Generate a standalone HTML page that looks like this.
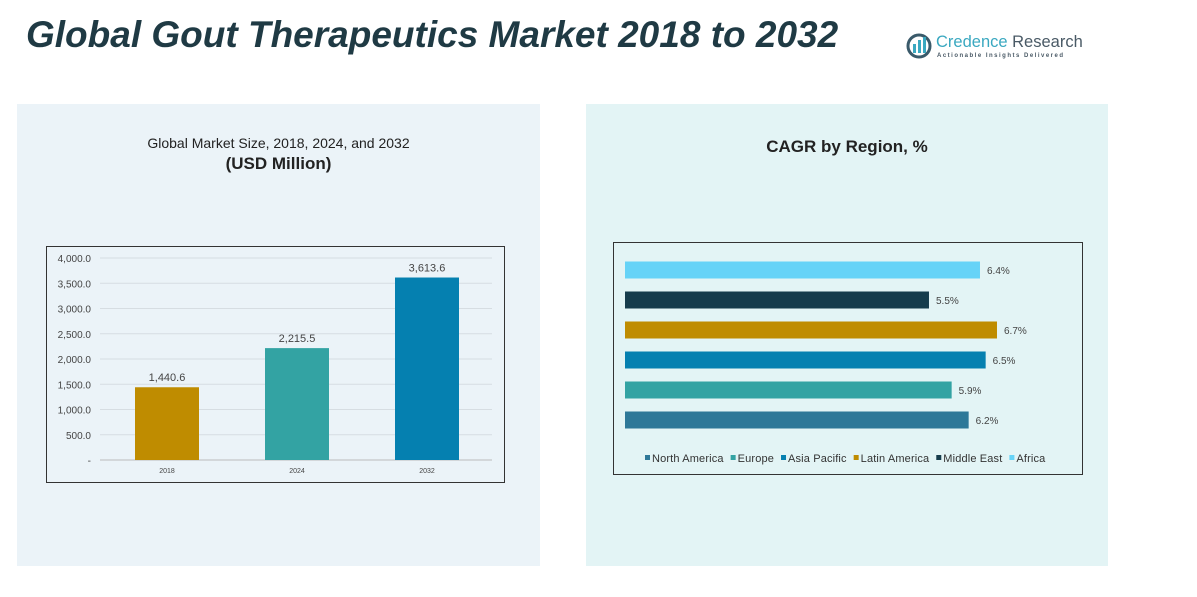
<!DOCTYPE html>
<html><head><meta charset="utf-8"><style>
body{margin:0;width:1197px;height:597px;background:#fff;position:relative;overflow:hidden;font-family:"Liberation Sans",sans-serif}
.abs{position:absolute}
</style></head><body>
<div class="abs" style="left:26px;top:14px;font-size:37px;font-weight:bold;font-style:italic;color:#1f3a44;letter-spacing:0px">Global Gout Therapeutics Market 2018 to 2032</div>
<div class="abs" style="left:905px;top:32px;width:180px;height:30px">
<svg width="30" height="28" style="position:absolute;left:0;top:0"><circle cx="14" cy="14" r="11" fill="none" stroke="#3a5a6a" stroke-width="3"/><rect x="8" y="12" width="3" height="9" fill="#3aa8c0"/><rect x="13" y="8" width="3" height="13" fill="#3aa8c0"/><rect x="18" y="5" width="3" height="16" fill="#3aa8c0"/></svg>
<div class="abs" style="left:31px;top:1px;font-size:16.5px;color:#3aa8c0;white-space:nowrap">Credence <span style="color:#4a5a66">Research</span></div>
<div class="abs" style="left:32px;top:21px;font-size:6px;letter-spacing:1.5px;color:#4a5a66;white-space:nowrap;font-weight:bold">Actionable Insights Delivered</div>
</div>
<div class="abs" style="left:17px;top:104px;width:523px;height:462px;background:#ebf3f8"></div>
<div class="abs" style="left:586px;top:104px;width:522px;height:462px;background:#e3f4f5"></div>
<div class="abs" style="left:17px;width:523px;top:135px;text-align:center;font-size:14px;color:#222">Global Market Size, 2018, 2024, and 2032<br><b style="font-size:17px;line-height:26px">(USD Million)</b></div>
<div class="abs" style="left:586px;width:522px;top:137px;text-align:center;font-size:17px;font-weight:bold;color:#222">CAGR by Region, %</div>
<svg class="abs" style="left:0;top:0" width="1197" height="597" id="svg">
<rect x="46.5" y="246.5" width="458" height="236" fill="none" stroke="#333"/>
<rect x="613.5" y="242.5" width="469" height="232" fill="none" stroke="#333"/>
<g id="g1"></g><g id="g2"></g>
</svg>
<script>
const years=["2018","2024","2032"];
const sizes=[1440.6,2215.5,3613.6];
const sizeLabels=["1,440.6","2,215.5","3,613.6"];
const yTicks=[0,500,1000,1500,2000,2500,3000,3500,4000];
const yTickLabels=["-","500.0","1,000.0","1,500.0","2,000.0","2,500.0","3,000.0","3,500.0","4,000.0"];
const barColors=["#bf8c00","#33a3a3","#0580b0"];
const regions=["Africa","Middle East","Latin America","Asia Pacific","Europe","North America"];
const cagr=[6.4,5.5,6.7,6.5,5.9,6.2];
const regionColors=["#66d3f7","#163c4c","#bf8c00","#0580b0","#33a3a3","#2e7898"];
const legendOrder=["North America","Europe","Asia Pacific","Latin America","Middle East","Africa"];
const NS="http://www.w3.org/2000/svg";
function mk(t,a,p){const e=document.createElementNS(NS,t);for(const k in a)e.setAttribute(k,a[k]);p.appendChild(e);return e;}
const g1=document.getElementById('g1');
const y=v=>460-v*(202/4000);
const xc=i=>167+i*130;
yTicks.forEach((t,i)=>{
 const l=mk('line',{x1:100,x2:492,y1:y(t),y2:y(t),stroke:i==0?'#bbb':'#d6dde2','stroke-width':1},g1);
 
 
 const tx=mk('text',{x:91,y:y(t)+4,'text-anchor':'end','font-size':10,fill:'#444'},g1);tx.textContent=yTickLabels[i];
 
 
});
years.forEach((yr,i)=>{
 const r=mk('rect',{x:xc(i)-32,y:y(sizes[i]),width:64,height:460-y(sizes[i]),fill:barColors[i]},g1);
 
 
 const v=mk('text',{x:xc(i),y:y(sizes[i])-6,'text-anchor':'middle','font-size':11,fill:'#444'},g1);v.textContent=sizeLabels[i];
 
 
 const c=mk('text',{x:xc(i),y:473,'text-anchor':'middle','font-size':7,fill:'#444'},g1);c.textContent=yr;
 
 
});
const g2=document.getElementById('g2');
const x=v=>617.3+v*56.67;
regions.forEach((r,i)=>{
 const cy=270+i*30;
 const b=mk('rect',{x:625,y:cy-8.5,width:x(cagr[i])-625,height:17,fill:regionColors[i]},g2);
 
 
 const t=mk('text',{x:x(cagr[i])+7,y:cy+4,'font-size':10,fill:'#444'},g2);t.textContent=cagr[i].toFixed(1)+'%';
 
 
});
let lx=645;
legendOrder.forEach(n=>{
 const c=regionColors[regions.indexOf(n)];
 const s=mk('rect',{x:lx,y:455,width:5,height:5,fill:c},g2);
 
 
 const t=mk('text',{x:lx+7,y:462,'font-size':11,fill:'#333','letter-spacing':'0.15'},g2);t.textContent=n;
 
 
 lx+=7+t.getComputedTextLength()+7;
});
</script>
</body></html>
